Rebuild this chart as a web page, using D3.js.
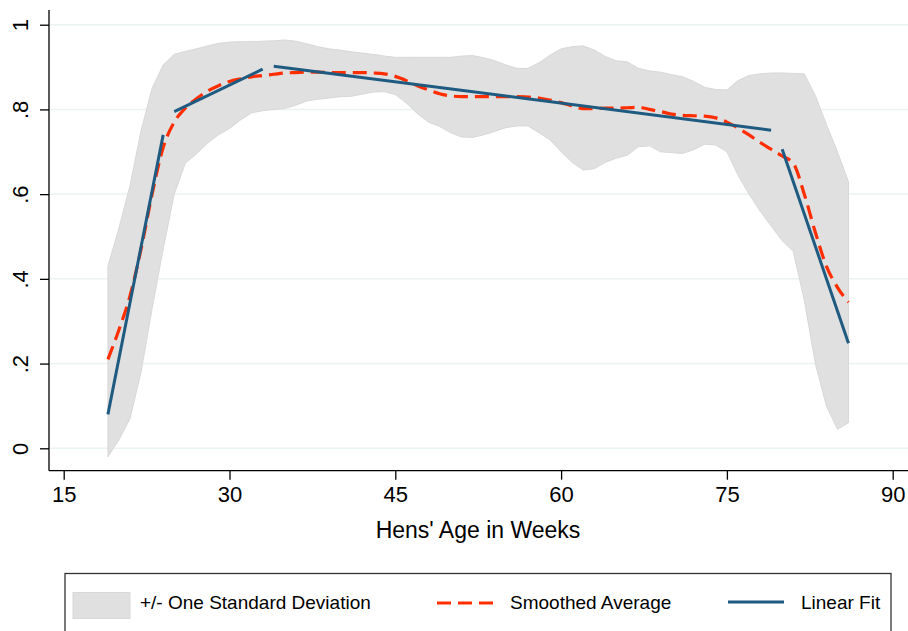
<!DOCTYPE html>
<html>
<head>
<meta charset="utf-8">
<script src="https://cdn.jsdelivr.net/npm/d3@7"></script>
<style>
  body { margin: 0; background: #fff; }
  text { font-family: "Liberation Sans", Arial, sans-serif; fill: #000; }
</style>
</head>
<body>
<div id="chart"></div>
<script>
// weeks 19..86
const weeks = d3.range(19, 87);

const bandUpper = [0.43, 0.52, 0.62, 0.75, 0.85, 0.905, 0.93, 0.937, 0.943, 0.95,
  0.956, 0.959, 0.96, 0.96, 0.961, 0.962, 0.964, 0.961, 0.955, 0.948,
  0.943, 0.94, 0.936, 0.933, 0.93, 0.926, 0.923, 0.923, 0.923, 0.923,
  0.923, 0.923, 0.926, 0.927, 0.922, 0.915, 0.905, 0.897, 0.897, 0.91,
  0.928, 0.943, 0.948, 0.95, 0.94, 0.925, 0.915, 0.912, 0.897, 0.891,
  0.888, 0.882, 0.877, 0.866, 0.852, 0.847, 0.846, 0.868, 0.88, 0.884,
  0.886, 0.886, 0.885, 0.884, 0.833, 0.765, 0.70, 0.629];

const bandLower = [-0.02, 0.02, 0.07, 0.18, 0.33, 0.47, 0.60, 0.673, 0.695, 0.72,
  0.74, 0.755, 0.775, 0.792, 0.797, 0.80, 0.802, 0.81, 0.82, 0.824,
  0.827, 0.83, 0.831, 0.836, 0.841, 0.842, 0.835, 0.815, 0.79, 0.77,
  0.76, 0.745, 0.735, 0.734, 0.74, 0.748, 0.757, 0.761, 0.761, 0.745,
  0.728, 0.70, 0.675, 0.657, 0.66, 0.675, 0.685, 0.692, 0.712, 0.714,
  0.70, 0.698, 0.696, 0.705, 0.718, 0.716, 0.70, 0.645, 0.60, 0.56,
  0.525, 0.49, 0.465, 0.35, 0.20, 0.10, 0.045, 0.06];

const smoothed = [0.21, 0.28, 0.36, 0.47, 0.60, 0.71, 0.77, 0.803, 0.825, 0.843,
  0.856, 0.866, 0.872, 0.877, 0.88, 0.883, 0.886, 0.887, 0.888, 0.888,
  0.887, 0.887, 0.887, 0.887, 0.886, 0.884, 0.878, 0.868, 0.856, 0.846,
  0.837, 0.832, 0.83, 0.83, 0.83, 0.83, 0.83, 0.83, 0.829, 0.827,
  0.822, 0.816, 0.808, 0.802, 0.802, 0.803, 0.803, 0.804, 0.805, 0.80,
  0.795, 0.789, 0.786, 0.785, 0.784, 0.78, 0.77, 0.756, 0.74, 0.722,
  0.706, 0.69, 0.673, 0.60, 0.51, 0.43, 0.38, 0.345];

// linear fit pieces: [start week, end week] and [start value, end value]
const fitWeeks = [[19, 24], [25, 33], [34, 79], [80, 86]];
const fitValues = [[0.08, 0.74], [0.795, 0.895], [0.902, 0.751], [0.706, 0.248]];

const xTicks = [15, 30, 45, 60, 75, 90];
const yTicks = [0, 0.2, 0.4, 0.6, 0.8, 1];
const yTickLabels = ["0", ".2", ".4", ".6", ".8", "1"];
const legendLabels = ["+/- One Standard Deviation", "Smoothed Average", "Linear Fit"];

const width = 908, height = 631;
const red = "#ff2e00", blue = "#1f5a80", bandFill = "#e0e0e0";

const svg = d3.select("#chart").append("svg")
    .attr("width", width)
    .attr("height", height);

const x = d3.scaleLinear().domain([15, 90]).range([63.7, 892.7]);
const y = d3.scaleLinear().domain([0, 1]).range([448.3, 24.7]);

// grid lines
svg.append("g")
    .selectAll("line")
    .data(yTicks)
    .join("line")
    .attr("x1", 50).attr("x2", width)
    .attr("y1", d => y(d)).attr("y2", d => y(d))
    .attr("stroke", "#eaf2f2")
    .attr("stroke-width", 1.5);

const band = weeks.map((w, i) => ({w: w, lo: bandLower[i], hi: bandUpper[i], s: smoothed[i]}));

// +/- one sd area
svg.append("path")
    .datum(band)
    .attr("fill", bandFill)
    .attr("stroke", "#d8d8d8")
    .attr("stroke-width", 1)
    .attr("d", d3.area()
        .x(d => x(d.w))
        .y0(d => y(d.lo))
        .y1(d => y(d.hi)));

// smoothed average
svg.append("path")
    .datum(band)
    .attr("fill", "none")
    .attr("stroke", red)
    .attr("stroke-width", 3.2)
    .attr("stroke-dasharray", "14,7")
    .attr("d", d3.line()
        .x(d => x(d.w))
        .y(d => y(d.s))
        .curve(d3.curveMonotoneX));

// linear fits
svg.append("g")
    .selectAll("line")
    .data(fitWeeks.map((w, i) => ({w: w, v: fitValues[i]})))
    .join("line")
    .attr("x1", d => x(d.w[0])).attr("x2", d => x(d.w[1]))
    .attr("y1", d => y(d.v[0])).attr("y2", d => y(d.v[1]))
    .attr("stroke", blue)
    .attr("stroke-width", 3);

// axes
const xAxis = svg.append("g")
    .attr("transform", "translate(0,470.7)")
    .call(d3.axisBottom(x).tickValues(xTicks).tickSize(9).tickPadding(7).tickFormat(d3.format("d")));
xAxis.select(".domain").attr("d", "M49,0H" + width).attr("stroke-width", 1.3);
xAxis.selectAll(".tick line").attr("stroke-width", 1.3);
xAxis.selectAll("text").attr("font-size", 22).attr("font-family", "Liberation Sans, Arial, sans-serif");

const yAxis = svg.append("g")
    .attr("transform", "translate(49,0)")
    .call(d3.axisLeft(y).tickValues(yTicks).tickSize(9).tickFormat((d, i) => yTickLabels[i]));
yAxis.select(".domain").attr("d", "M0,10V470.7").attr("stroke-width", 1.3);
yAxis.selectAll(".tick line").attr("stroke-width", 1.3);
yAxis.selectAll("text")
    .attr("font-size", 22)
    .attr("font-family", "Liberation Sans, Arial, sans-serif")
    .attr("x", null).attr("dy", null)
    .attr("text-anchor", "middle")
    .attr("transform", "translate(-21,0) rotate(-90)");

// axis title
svg.append("text")
    .attr("x", 478).attr("y", 538)
    .attr("text-anchor", "middle")
    .attr("font-size", 23)
    .text("Hens' Age in Weeks");

// legend
const legend = svg.append("g");
legend.append("rect")
    .attr("x", 65).attr("y", 573.5)
    .attr("width", 826).attr("height", 80)
    .attr("fill", "#fff")
    .attr("stroke", "#333")
    .attr("stroke-width", 1.3);

legend.append("rect")
    .attr("x", 73).attr("y", 592.5)
    .attr("width", 57).attr("height", 26)
    .attr("fill", bandFill)
    .attr("stroke", "#d8d8d8");
legend.append("line")
    .attr("x1", 437).attr("x2", 493).attr("y1", 603).attr("y2", 603)
    .attr("stroke", red).attr("stroke-width", 3.2)
    .attr("stroke-dasharray", "14,7");
legend.append("line")
    .attr("x1", 728).attr("x2", 784).attr("y1", 602).attr("y2", 602)
    .attr("stroke", blue).attr("stroke-width", 3);

const legendX = [140, 510, 801];
legend.selectAll("text.lab")
    .data(legendLabels)
    .join("text")
    .attr("class", "lab")
    .attr("x", (d, i) => legendX[i])
    .attr("y", 609)
    .attr("font-size", 19)
    .text(d => d);
</script>
</body>
</html>
